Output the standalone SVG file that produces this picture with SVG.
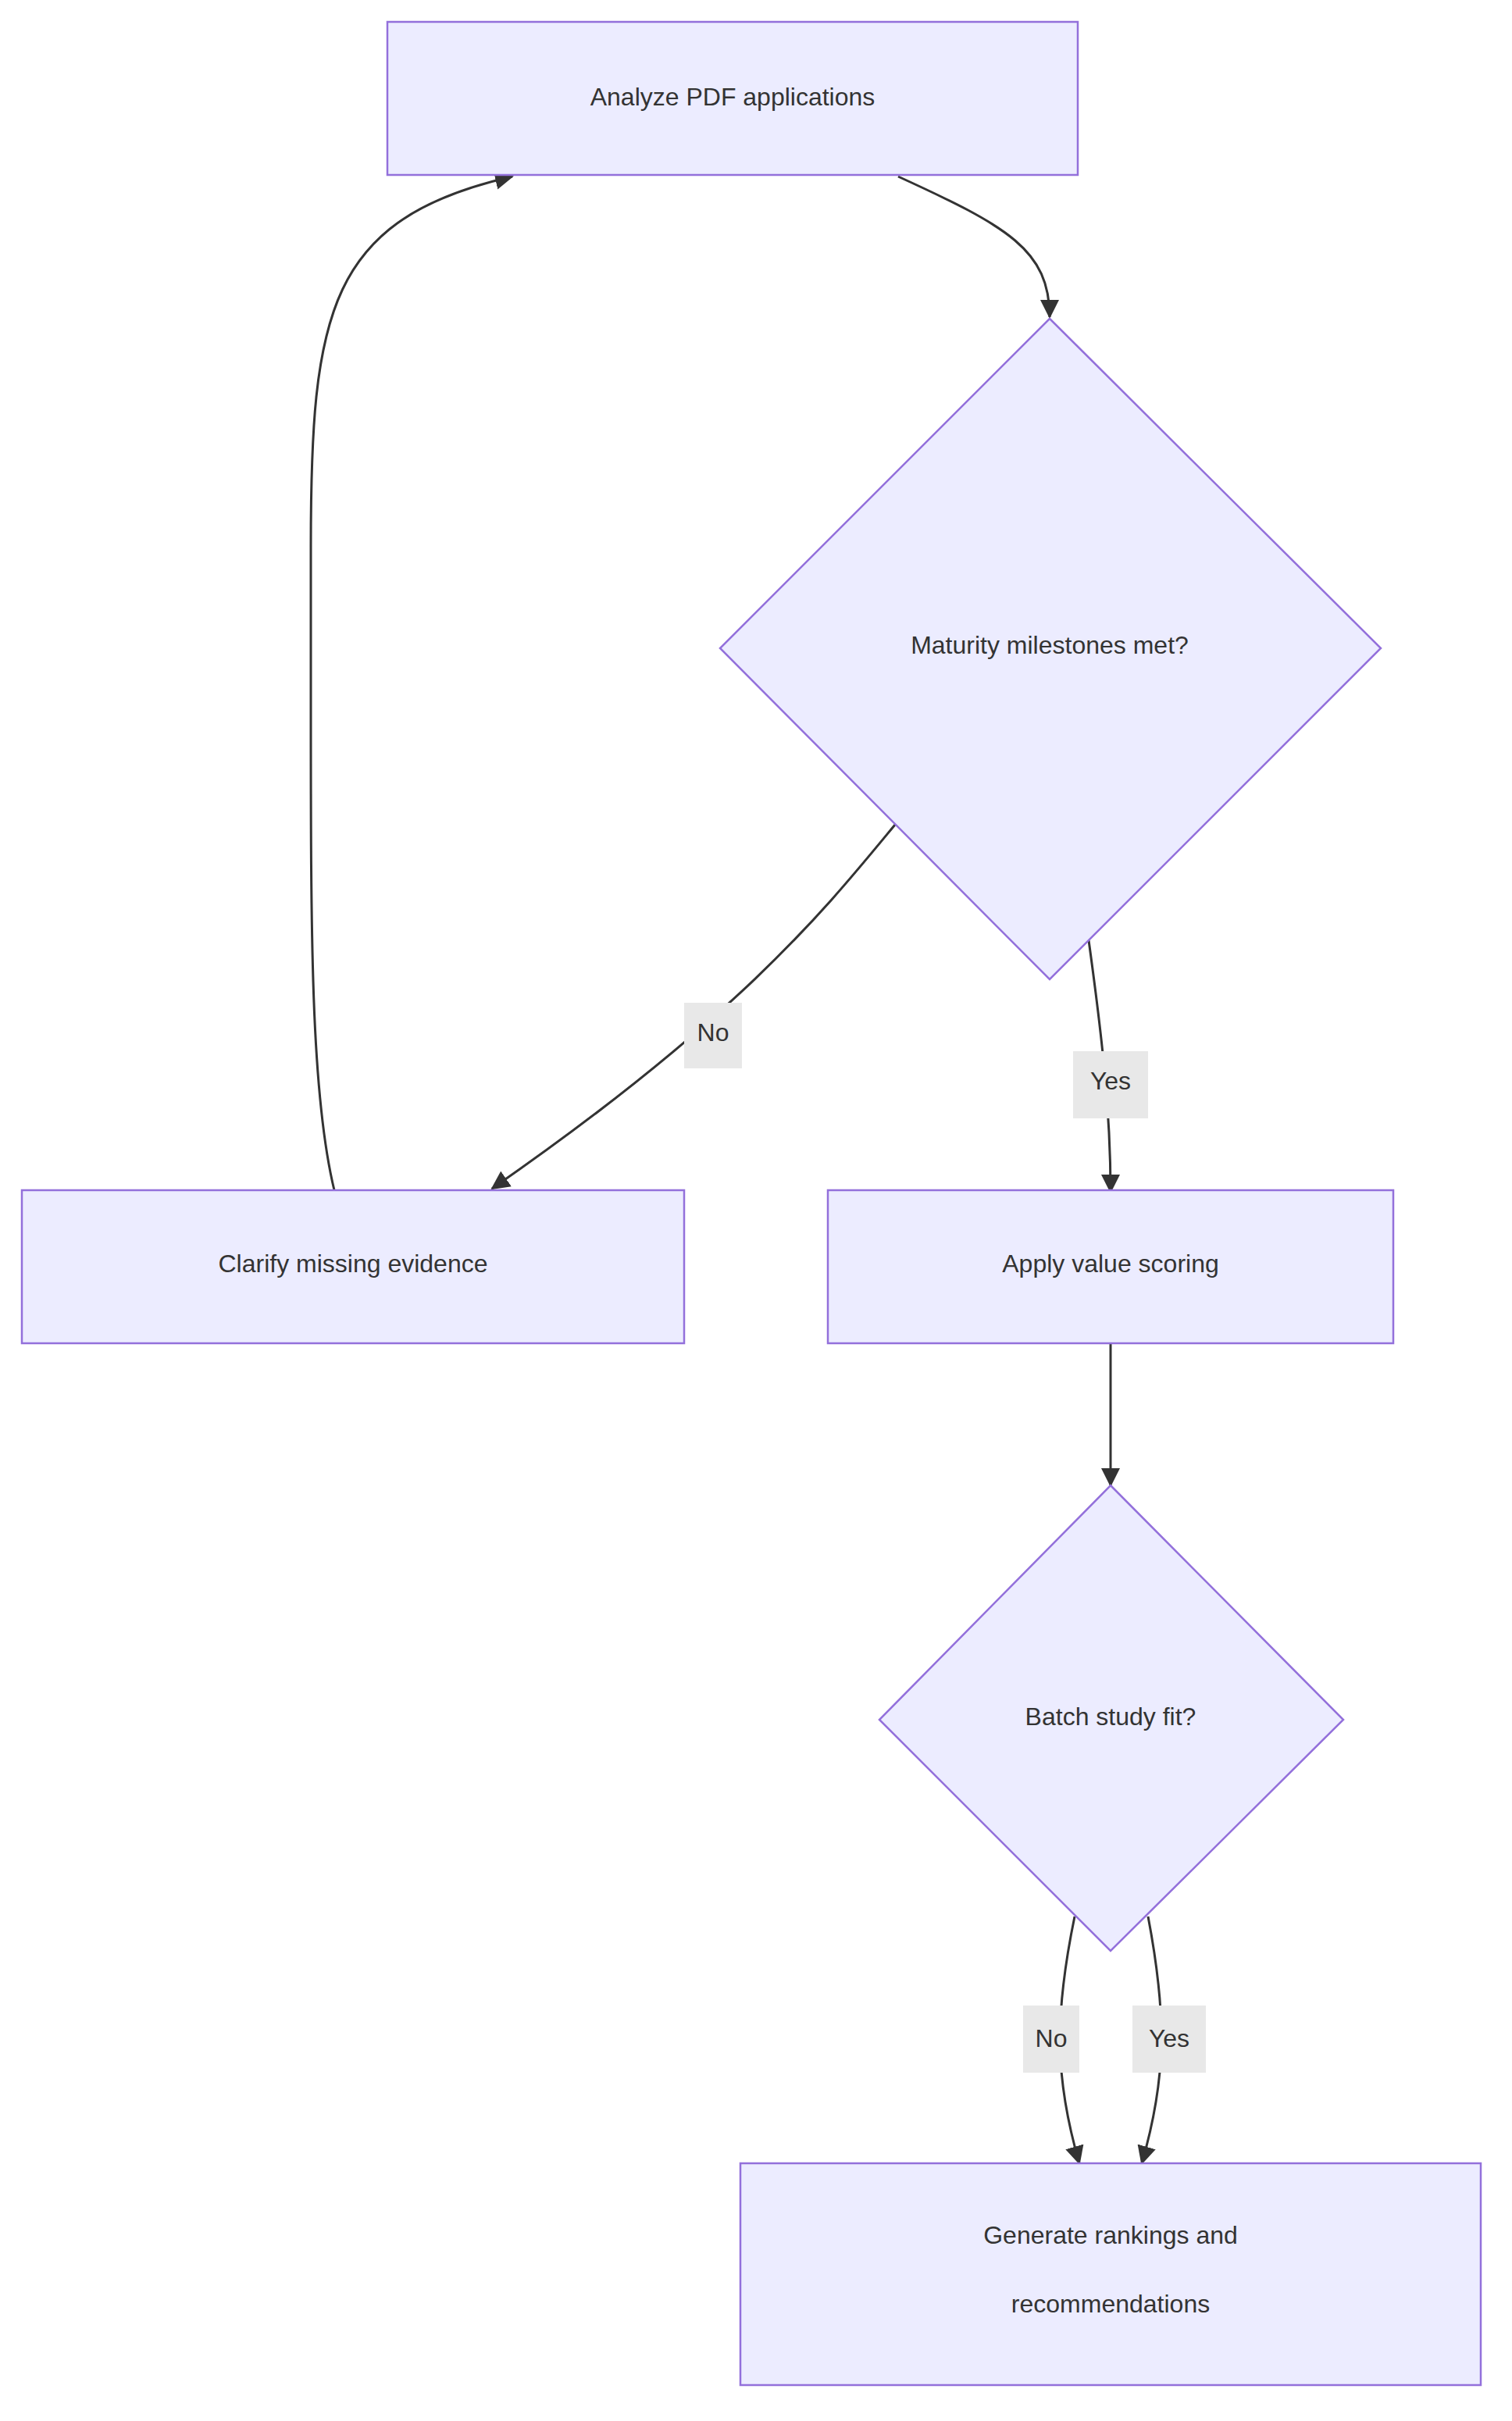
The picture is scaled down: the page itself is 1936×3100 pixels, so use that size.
<svg xmlns="http://www.w3.org/2000/svg" width="1936" height="3100" viewBox="0 0 1936 3100">
<style>
.n{fill:#ECECFF;stroke:#9370DB;stroke-width:2.5}
.t{font-family:"Liberation Sans",Arial,sans-serif;font-size:32px;fill:#333;text-anchor:middle;dominant-baseline:central}
.e{fill:none;stroke:#333;stroke-width:3}
.lb{fill:#e8e8e8}
</style>
<defs><marker id="ah" viewBox="0 0 10 10" refX="9" refY="5" markerWidth="9" markerHeight="9" markerUnits="userSpaceOnUse" orient="auto"><path d="M0,0L10,5L0,10z" fill="#333" transform="scale(1)"/></marker>
<marker id="a" viewBox="0 0 12 12" refX="11" refY="6" markerWidth="24" markerHeight="24" markerUnits="userSpaceOnUse" orient="auto"><path d="M0,0L12,6L0,12z" fill="#333"/></marker></defs>
<rect width="1936" height="3100" fill="#fff"/>
<g id="edges">
<path class="e" d="M1150,226 C1290,290 1344,320 1344,406" marker-end="url(#a)"/>
<path class="e" d="M1146,1056 C1060,1160 950,1300 630,1522" marker-end="url(#a)"/>
<path class="e" d="M1394,1204 C1410,1320 1422,1420 1422,1526" marker-end="url(#a)"/>
<path class="e" d="M428,1524 C398,1400 398,1200 398,900 L398,700 C398,400 420,280 656,226" marker-end="url(#a)"/>
<path class="e" d="M1422,1720 L1422,1902" marker-end="url(#a)"/>
<path class="e" d="M1376,2454 C1350,2580 1350,2660 1382,2770" marker-end="url(#a)"/>
<path class="e" d="M1470,2454 C1494,2580 1494,2660 1462,2770" marker-end="url(#a)"/>
<rect class="lb" x="876" y="1284" width="74" height="84"/><text class="t" x="913" y="1322">No</text>
<rect class="lb" x="1374" y="1346" width="96" height="86"/><text class="t" x="1422" y="1384">Yes</text>
<rect class="lb" x="1310" y="2568" width="72" height="86"/><text class="t" x="1346" y="2610">No</text>
<rect class="lb" x="1450" y="2568" width="94" height="86"/><text class="t" x="1497" y="2610">Yes</text>
</g>
<g id="A"><rect class="n" x="496" y="28" width="884" height="196"/><text class="t" x="938" y="124">Analyze PDF applications</text></g>
<g id="B"><polygon class="n" points="1344,408 1768,830 1344,1254 922,830"/><text class="t" x="1344" y="826">Maturity milestones met?</text></g>
<g id="C"><rect class="n" x="28" y="1524" width="848" height="196"/><text class="t" x="452" y="1618">Clarify missing evidence</text></g>
<g id="D"><rect class="n" x="1060" y="1524" width="724" height="196"/><text class="t" x="1422" y="1618">Apply value scoring</text></g>
<g id="E"><polygon class="n" points="1422,1902 1720,2202 1422,2498 1126,2202"/><text class="t" x="1422" y="2198">Batch study fit?</text></g>
<g id="F"><rect class="n" x="948" y="2770" width="948" height="284"/><text class="t" x="1422" y="2862">Generate rankings and</text><text class="t" x="1422" y="2950">recommendations</text></g>
</svg>
